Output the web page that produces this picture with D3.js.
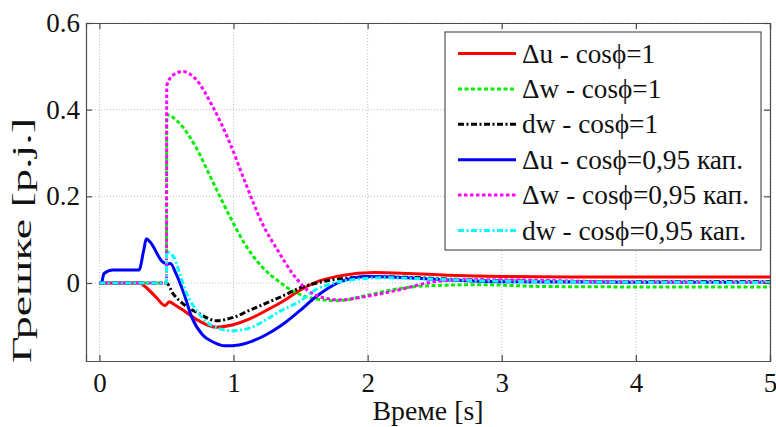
<!DOCTYPE html>
<html><head><meta charset="utf-8">
<script src="https://cdn.jsdelivr.net/npm/d3@7"></script>
</head><body style="margin:0">
<script>
// Error signals after the disturbance, two power-factor cases
const xTicks = [0, 1, 2, 3, 4, 5];
const yTicks = [0, 0.2, 0.4, 0.6];
const yTickLabels = ["0", "0.2", "0.4", "0.6"];

const seriesNames = [
  "\u0394u - cos\u03d5=1",
  "\u0394w - cos\u03d5=1",
  "dw - cos\u03d5=1",
  "\u0394u - cos\u03d5=0,95 кап.",
  "\u0394w - cos\u03d5=0,95 кап.",
  "dw - cos\u03d5=0,95 кап."
];

// Δu, cosφ = 1
const duUnityT = [0, 0.3, 0.34, 0.42, 0.49, 0.52, 0.56, 0.62, 0.74, 0.87, 0.99, 1.12, 1.24, 1.36, 1.49, 1.6, 1.8, 2.05, 2.3, 2.6, 3.0, 3.5, 4.0, 5.0];
const duUnityV = [0, 0, -0.008, -0.032, -0.052, -0.043, -0.05, -0.062, -0.087, -0.102, -0.097, -0.083, -0.064, -0.044, -0.018, 0.0, 0.017, 0.024, 0.022, 0.018, 0.015, 0.014, 0.014, 0.014];

// Δw, cosφ = 1
const dwDeltaUnityT = [0, 0.5, 0.502, 0.59, 0.72, 0.84, 0.97, 1.09, 1.21, 1.34, 1.45, 1.6, 1.78, 1.99, 2.23, 2.48, 2.85, 3.3, 4.0, 5.0];
const dwDeltaUnityV = [0, 0, 0.388, 0.371, 0.313, 0.237, 0.155, 0.087, 0.038, 0.003, -0.02, -0.036, -0.041, -0.029, -0.013, -0.006, -0.004, -0.008, -0.009, -0.009];

// dw, cosφ = 1
const dwUnityT = [0, 0.5, 0.55, 0.62, 0.74, 0.87, 0.99, 1.12, 1.24, 1.36, 1.49, 1.62, 1.8, 2.05, 2.3, 2.6, 3.0, 4.0, 5.0];
const dwUnityV = [0, 0, -0.025, -0.047, -0.07, -0.087, -0.08, -0.063, -0.047, -0.031, -0.012, 0.0, 0.01, 0.014, 0.013, 0.009, 0.005, 0.003, 0.003];

// Δu, cosφ = 0,95 capacitive
const duCapT = [0, 0.015, 0.034, 0.1, 0.2, 0.295, 0.33, 0.35, 0.38, 0.47, 0.506, 0.53, 0.57, 0.63, 0.69, 0.77, 0.84, 0.94, 1.04, 1.14, 1.24, 1.36, 1.49, 1.61, 1.79, 2.0, 2.3, 2.6, 3.0, 4.0, 5.0];
const duCapV = [0, 0, 0.022, 0.03, 0.03, 0.03, 0.075, 0.102, 0.094, 0.049, 0.044, 0.045, 0.022, -0.024, -0.08, -0.12, -0.135, -0.145, -0.143, -0.134, -0.12, -0.097, -0.065, -0.033, 0.002, 0.015, 0.012, 0.007, 0.003, 0.002, 0.002];

// Δw, cosφ = 0,95 capacitive
const dwDeltaCapT = [0, 0.5, 0.502, 0.55, 0.62, 0.72, 0.84, 0.97, 1.09, 1.21, 1.34, 1.44, 1.61, 1.79, 1.99, 2.23, 2.48, 2.75, 3.1, 4.0, 5.0];
const dwDeltaCapV = [0, 0, 0.455, 0.48, 0.488, 0.47, 0.41, 0.325, 0.23, 0.14, 0.07, 0.022, -0.028, -0.039, -0.031, -0.016, 0.002, 0.008, 0.007, 0.002, 0.001];

// dw, cosφ = 0,95 capacitive
const dwCapT = [0, 0.5, 0.502, 0.56, 0.59, 0.64, 0.74, 0.87, 0.99, 1.12, 1.24, 1.36, 1.49, 1.61, 1.75, 1.9, 2.1, 2.4, 3.0, 4.0, 5.0];
const dwCapV = [0, 0, 0.072, 0.057, 0.03, -0.016, -0.07, -0.103, -0.11, -0.104, -0.085, -0.063, -0.043, -0.016, 0.0, 0.008, 0.012, 0.01, 0.004, 0.002, 0.001];

const colors = ["#ff0000", "#00ee00", "#000000", "#0000ff", "#ff00ff", "#00ffff"];
const dashes = [null, "4,2.5", "6,2.5,2,2.5", null, "3.5,2.5", "6,2.5,2,2.5"];

const series = [
  [duUnityT, duUnityV], [dwDeltaUnityT, dwDeltaUnityV], [dwUnityT, dwUnityV],
  [duCapT, duCapV], [dwDeltaCapT, dwDeltaCapV], [dwCapT, dwCapV]
].map(([t, v], i) => ({
  name: seriesNames[i], color: colors[i], dash: dashes[i],
  points: t.map((tt, k) => [tt, v[k]])
}));

// Times-compatible advance widths (em) used to fix each label's run length
const ADV = { "Δ": 0.612, "u": 0.5, " ": 0.25, "-": 0.333, "c": 0.444, "o": 0.5, "s": 0.389, "ϕ": 0.5,
  "=": 0.564, "w": 0.722, "d": 0.5, ",": 0.25, ".": 0.25, "к": 0.5, "а": 0.444, "п": 0.5,
  "В": 0.667, "р": 0.5, "е": 0.444, "м": 0.6, "[": 0.333, "]": 0.333 };
const runLength = (s, size) => Array.from(s).reduce((a, ch) => a + (ADV[ch] ?? 0.5), 0) * size;

const FONT = "Liberation Serif";
const W = 776, H = 427;
const margin = { left: 86, right: 6, top: 23, bottom: 66 };
const iw = W - margin.left - margin.right;
const ih = H - margin.top - margin.bottom;

const svg = d3.select("body").append("svg").attr("width", W).attr("height", H)
  .attr("font-family", FONT);
const g = svg.append("g").attr("transform", `translate(${margin.left},${margin.top})`);

const x = d3.scaleLinear().domain([-0.1, 5]).range([0, iw]);
const y = d3.scaleLinear().domain([-0.18, 0.6]).range([ih, 0]);

// grid
const grid = g.append("g");
grid.selectAll("line.gx").data(xTicks).join("line")
  .attr("x1", d => x(d)).attr("x2", d => x(d)).attr("y1", 0).attr("y2", ih)
  .attr("stroke", "#bdbdbd").attr("stroke-width", 1).attr("stroke-dasharray", "1,2");
grid.selectAll("line.gy").data(yTicks).join("line")
  .attr("x1", 0).attr("x2", iw).attr("y1", d => y(d)).attr("y2", d => y(d))
  .attr("stroke", "#bdbdbd").attr("stroke-width", 1).attr("stroke-dasharray", "1,2");

// curves
g.append("clipPath").attr("id", "plotclip").append("rect").attr("width", iw).attr("height", ih);
const line = d3.line().x(d => x(d[0])).y(d => y(d[1])).curve(d3.curveMonotoneX);
g.append("g").attr("clip-path", "url(#plotclip)")
  .selectAll("path").data(series).join("path")
  .attr("d", d => line(d.points))
  .attr("fill", "none")
  .attr("stroke", d => d.color)
  .attr("stroke-width", 3)
  .attr("stroke-dasharray", d => d.dash)
  .attr("stroke-linejoin", "round");

// axes (box with inward ticks on all four sides)
const tickLen = 6;
const tickFont = 27;
const axisColor = "#4d4d4d";
const xb = g.append("g").attr("transform", `translate(0,${ih})`)
  .call(d3.axisBottom(x).tickValues(xTicks).tickSize(-tickLen).tickPadding(12).tickFormat(d3.format("d")));
const xt = g.append("g")
  .call(d3.axisTop(x).tickValues(xTicks).tickSize(-tickLen).tickFormat(""));
const yl = g.append("g")
  .call(d3.axisLeft(y).tickValues(yTicks).tickSize(-tickLen).tickPadding(6).tickFormat((d, i) => yTickLabels[i]));
const yr = g.append("g").attr("transform", `translate(${iw},0)`)
  .call(d3.axisRight(y).tickValues(yTicks).tickSize(-tickLen).tickFormat(""));
[xb, xt, yl, yr].forEach(a => {
  a.attr("font-family", FONT).attr("font-size", tickFont);
  a.select(".domain").attr("stroke", axisColor).attr("stroke-width", 1.2);
  a.selectAll(".tick line").attr("stroke", axisColor).attr("stroke-width", 1.2);
  a.selectAll(".tick text").attr("fill", "#111")
    .attr("textLength", function () { return runLength(this.textContent, tickFont); })
    .attr("lengthAdjust", "spacingAndGlyphs");
});
xb.selectAll(".tick text").attr("dy", "0.71em");

// every label goes through the same transformed-text path as the rotated title
const settle = sel => sel.each(function () {
  const t = d3.select(this);
  const px = +t.attr("x") || 0, py = +t.attr("y") || 0;
  t.attr("x", null).attr("y", null)
    .attr("transform", `translate(${px},${py}) rotate(0.01)`);
});
[xb, yl].forEach(a => settle(a.selectAll(".tick text")));

// axis titles
const xTitle = "Време [s]";
svg.append("text")
  .attr("transform", `translate(${margin.left + iw / 2},420) rotate(0.01)`)
  .attr("font-family", FONT).attr("font-size", 28).attr("fill", "#111")
  .attr("text-anchor", "middle")
  .attr("textLength", runLength(xTitle, 28)).attr("lengthAdjust", "spacingAndGlyphs")
  .text(xTitle);
svg.append("text")
  .attr("transform", `translate(31,240.5) rotate(-90)`)
  .attr("font-family", FONT).attr("font-size", 27).attr("fill", "#111")
  .attr("text-anchor", "middle")
  .attr("textLength", 245).attr("lengthAdjust", "spacingAndGlyphs")
  .text("Грешке [p.j.]");

// legend
const legendFont = 27.5;
const lg = svg.append("g").attr("transform", "translate(445,32)");
lg.append("rect").attr("width", 316).attr("height", 218)
  .attr("fill", "#fff").attr("stroke", "#333").attr("stroke-width", 1);
const rows = lg.selectAll("g.row").data(series).join("g")
  .attr("transform", (d, i) => `translate(0,${21.5 + i * 35.4})`);
rows.append("line").attr("x1", 13).attr("x2", 71).attr("y1", 0).attr("y2", 0)
  .attr("stroke", d => d.color).attr("stroke-width", 3).attr("stroke-dasharray", d => d.dash);
rows.append("text")
  .attr("transform", "translate(77,0) rotate(0.01)")
  .attr("dy", "0.33em")
  .attr("font-family", FONT).attr("font-size", legendFont).attr("fill", "#111")
  .attr("textLength", d => runLength(d.name, legendFont)).attr("lengthAdjust", "spacingAndGlyphs")
  .text(d => d.name);
</script>
</body>
</html>
